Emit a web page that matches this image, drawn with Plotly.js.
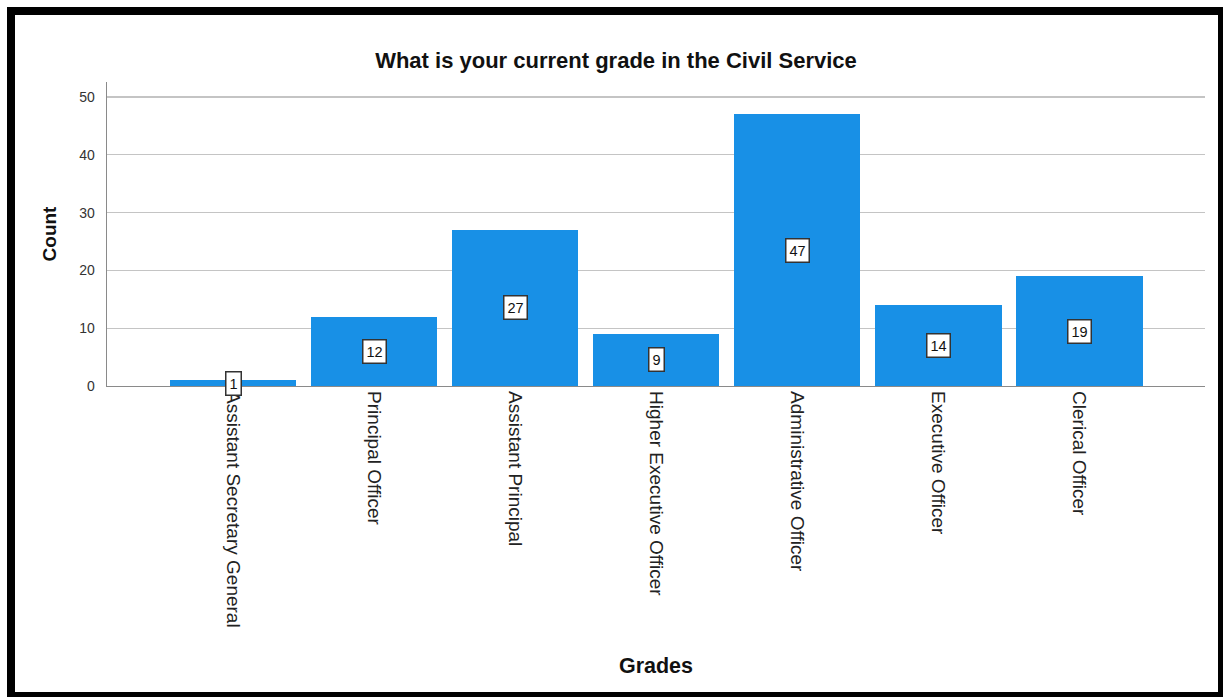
<!DOCTYPE html>
<html>
<head>
<meta charset="utf-8">
<script src="https://cdn.plot.ly/plotly-3.0.1.min.js"></script>
<style>
  html, body { margin: 0; padding: 0; background: #ffffff; }
  #wrap { position: relative; width: 1223px; height: 697px; overflow: hidden; }
  #chart { width: 1223px; height: 697px; }
  #frame { position: absolute; left: 7px; top: 7px; width: 1216px; height: 690px;
           box-sizing: border-box; border-style: solid; border-color: #000;
           border-width: 8px 5px 5px 8px; pointer-events: none; }
</style>
</head>
<body>
<div id="wrap">
  <div id="chart"></div>
  <div id="frame"></div>
</div>
<script>
const categories = [
  "Assistant Secretary General",
  "Principal Officer",
  "Assistant Principal",
  "Higher Executive Officer",
  "Administrative Officer",
  "Executive Officer",
  "Clerical Officer"
];
const counts = [1, 12, 27, 9, 47, 14, 19];
const yTicks = [0, 10, 20, 30, 40, 50];

const barColor = "#1890e6";

const trace = {
  type: "bar",
  x: categories,
  y: counts,
  width: 0.895,
  marker: { color: barColor, line: { width: 0 } },
  hoverinfo: "x+y"
};

const labels = categories.map((c, i) => ({
  x: c,
  y: counts[i] / 2,
  xref: "x",
  yref: "y",
  text: String(counts[i]),
  showarrow: false,
  font: { family: "Arial, 'Liberation Sans', sans-serif", size: 14.5, color: "#111" },
  bgcolor: "#ffffff",
  bordercolor: "#333333",
  borderwidth: 1.5,
  borderpad: 3,
  xanchor: "center",
  yanchor: "middle"
}));

const layout = {
  width: 1223,
  height: 697,
  margin: { l: 107, r: 18, t: 82, b: 311, pad: 0 },
  paper_bgcolor: "#ffffff",
  plot_bgcolor: "#ffffff",
  showlegend: false,
  bargap: 0,
  title: {
    text: "What is your current grade in the Civil Service",
    font: { family: "Arial, 'Liberation Sans', sans-serif", size: 22, color: "#111", weight: "bold" },
    x: 616 / 1223,
    xanchor: "center",
    xref: "container",
    y: 1 - 60 / 697,
    yref: "container",
    yanchor: "middle"
  },
  xaxis: {
    type: "category",
    categoryorder: "array",
    categoryarray: categories,
    range: [-0.894, 6.89],
    tickangle: 90,
    ticks: "",
    ticklen: 0,
    tickfont: { family: "Arial, 'Liberation Sans', sans-serif", size: 19, color: "#222" },
    showline: true,
    linecolor: "#8a8a8a",
    linewidth: 1.3,
    showgrid: false,
    zeroline: false,
    automargin: false,
    title: {
      text: "Grades",
      font: { family: "Arial, 'Liberation Sans', sans-serif", size: 21.5, color: "#111", weight: "bold" },
      standoff: 31
    }
  },
  yaxis: {
    range: [0, 52.6],
    tickvals: yTicks,
    ticktext: yTicks.map(String),
    ticks: "",
    ticklabelstandoff: 8,
    tickfont: { family: "Arial, 'Liberation Sans', sans-serif", size: 14, color: "#333" },
    showline: true,
    linecolor: "#8a8a8a",
    linewidth: 1.3,
    showgrid: true,
    gridcolor: "#c4c4c4",
    gridwidth: 1.2,
    zeroline: false,
    automargin: false,
    title: {
      text: "Count",
      font: { family: "Arial, 'Liberation Sans', sans-serif", size: 19, color: "#111", weight: "bold" },
      standoff: 17
    }
  },
  annotations: labels
};

Plotly.newPlot("chart", [trace], layout, { displayModeBar: false, staticPlot: true });
</script>
</body>
</html>
